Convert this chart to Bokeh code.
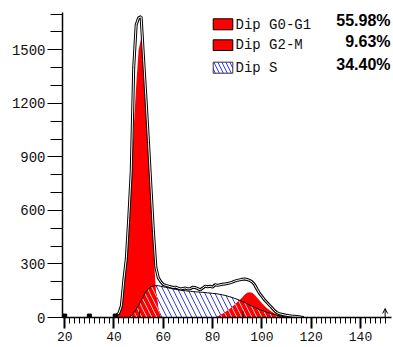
import numpy as np
from bokeh.plotting import figure
from bokeh.models import Range1d, FixedTicker, Label, Arrow, OpenHead
from bokeh.embed import file_html
from bokeh.resources import INLINE

# ---------------- data ----------------
channel = list(range(40, 118))

data_counts = [5, 12, 25, 65, 210, 330, 560, 820, 1400, 1640,
               1680, 1685, 1450, 1220, 980, 730, 480, 280, 222, 200,
               185, 180, 176, 172, 168, 170, 165, 160, 163, 165,
               160, 162, 170, 168, 162, 155, 165, 176, 172, 175,
               170, 184, 180, 183, 186, 188, 190, 194, 198, 204,
               208, 211, 214, 216, 213, 208, 200, 185, 160, 136,
               118, 100, 85, 70, 56, 40, 28, 22, 18, 15,
               12, 10, 8, 7, 6, 4, 2, 0]

g0g1 = [0, 12, 35, 110, 205, 320, 560, 760, 1060, 1300,
        1500, 1565, 1370, 1120, 880, 620, 384, 150, 50, 0,
        0, 0, 0, 0, 0, 0, 0, 0, 0, 0,
        0, 0, 0, 0, 0, 0, 0, 0, 0, 0,
        0, 0, 0, 0, 0, 0, 0, 0, 0, 0,
        0, 0, 0, 0, 0, 0, 0, 0, 0, 0,
        0, 0, 0, 0, 0, 0, 0, 0, 0, 0,
        0, 0, 0, 0, 0, 0, 0, 0]

g2m = [0, 0, 0, 0, 0, 0, 0, 0, 0, 0,
       0, 0, 0, 0, 0, 0, 0, 0, 0, 0,
       0, 0, 0, 0, 0, 0, 0, 0, 0, 0,
       0, 0, 0, 0, 0, 0, 0, 0, 0, 0,
       0, 0, 5, 12, 20, 28, 38, 48, 60, 72,
       85, 98, 112, 127, 138, 142, 139, 128, 112, 96,
       80, 66, 53, 42, 32, 24, 17, 14, 10, 6,
       2, 0, 0, 0, 0, 0, 0, 0]

s_phase = [0, 0, 0, 0, 0, 0, 0, 10, 25, 45,
           70, 95, 120, 145, 162, 172, 177, 179, 178, 175,
           172, 169, 166, 163, 160, 157, 155, 153, 151, 150,
           148, 147, 145, 144, 143, 142, 141, 140, 138, 137,
           135, 134, 132, 130, 127, 124, 120, 116, 112, 107,
           102, 96, 90, 84, 77, 70, 63, 57, 51, 45,
           40, 35, 30, 25, 21, 17, 13, 10, 7, 4,
           2, 0, 0, 0, 0, 0, 0, 0]

debris_x = [20, 30, 40.5]
debris_y = [8, 8, 8]
marker_x = [50.4, 92.3]
marker_h = [35, 35]

x_labeled = [20, 40, 60, 80, 100, 120, 140]
x_fine = list(range(20, 152, 2))
y_labeled = [0, 300, 600, 900, 1200, 1500]
y_fine = list(range(0, 1800, 100))

legend_names = ["Dip G0-G1", "Dip G2-M", "Dip S"]
legend_pcts = ["55.98%", "9.63%", "34.40%"]

# ---------------- layout ----------------
X0, X1 = 19.11, 152.58
Y0, Y1 = 0, 1709
FW, FH = 329, 305
L, T = 62, 12  # page px of frame left/top


def dx(px):
    return X0 + (px - L) * (X1 - X0) / FW


def dy(py):
    return Y1 - (py - T) * (Y1 - Y0) / FH


p = figure(width=393, height=347, frame_width=FW, frame_height=FH,
           x_range=Range1d(X0, X1), y_range=Range1d(Y0, Y1),
           output_backend="svg", toolbar_location=None,
           min_border_left=62, min_border_top=12, min_border_right=2,
           min_border_bottom=30)
p.outline_line_color = None
p.grid.visible = False
p.background_fill_color = "white"
p.border_fill_color = "white"

# axes: the fine comb is drawn as "major" ticks (only some labelled),
# the long labelled ticks as "minor" ticks
xa = p.xaxis[0]
xa.ticker = FixedTicker(ticks=x_fine, minor_ticks=x_labeled)
xa.major_label_overrides = {t: (str(t) if t in x_labeled else "")
                            for t in x_fine}
xa.major_tick_out = 6
xa.major_tick_in = 0
xa.major_tick_line_width = 1
xa.minor_tick_out = 11
xa.minor_tick_in = 0
xa.minor_tick_line_color = "black"
xa.minor_tick_line_width = 2
xa.axis_line_width = 1.5
xa.major_label_standoff = 3
xa.major_label_text_font = "Liberation Mono"
xa.major_label_text_font_size = "13px"
xa.major_label_text_color = "#111111"

ya = p.yaxis[0]
ya.ticker = FixedTicker(ticks=y_fine, minor_ticks=y_labeled)
ya.major_label_overrides = {t: (str(t) if t in y_labeled else "")
                            for t in y_fine}
ya.major_tick_out = 12
ya.major_tick_in = 0
ya.minor_tick_out = 15
ya.minor_tick_in = 0
ya.minor_tick_line_color = "black"
ya.axis_line_width = 1.5
ya.major_label_standoff = 2
ya.major_label_text_font = "Liberation Mono"
ya.major_label_text_font_size = "14px"
ya.major_label_text_color = "#111111"

s_arr = np.array(s_phase, dtype=float)
g1_arr = np.array(g0g1, dtype=float)
g2_arr = np.array(g2m, dtype=float)
overlap = np.minimum(s_arr, g1_arr) + np.minimum(s_arr, g2_arr)

# S phase: blue hatch on white
p.varea(x=channel, y1=0, y2=s_phase, fill_color="white", fill_alpha=0,
        hatch_pattern="\\", hatch_color="#2a3cff", hatch_scale=10,
        hatch_weight=1)
# G0-G1 and G2-M: solid red
p.varea(x=channel, y1=0, y2=g0g1, fill_color="#ff0000")
p.varea(x=channel, y1=0, y2=g2m, fill_color="#ff0000")
# overlap of S with G peaks: red with light hatch
p.varea(x=channel, y1=0, y2=overlap, fill_color="#ff0000",
        hatch_pattern="\\", hatch_color="#ffc0c0", hatch_scale=10,
        hatch_weight=1)
# S line
p.line(channel, s_phase, line_color="black", line_width=1)

# measured histogram: dark outline with light core
p.line(channel, data_counts, line_color="black", line_width=3)
p.line(channel, data_counts, line_color="white", line_width=1)

p.scatter(debris_x, debris_y, marker="square", size=4, color="black")
p.segment(x0=marker_x, y0=[0, 0], x1=marker_x, y1=marker_h,
          line_color="black", line_width=1)

p.add_layout(Arrow(end=OpenHead(size=5, line_width=1), x_start=150,
                   x_end=150, y_start=-54, y_end=50, line_width=1,
                   line_color="black"))

# legend
box_tops = [18.3, 39.3, 61.7]
box_bots = [29.3, 50.0, 72.7]
for i in range(3):
    if i < 2:
        p.quad(left=dx(212.7), right=dx(232.3), top=dy(box_tops[i]),
               bottom=dy(box_bots[i]), fill_color="#ff0000",
               line_color="black", line_width=1)
    else:
        p.quad(left=dx(212.7), right=dx(232.3), top=dy(box_tops[i]),
               bottom=dy(box_bots[i]), fill_color="white",
               hatch_pattern="\\", hatch_color="#2a3cff", hatch_scale=8,
               hatch_weight=1, line_color="#333333", line_width=1)

name_y = [24.0, 44.7, 67.2]
pct_y = [20.0, 41.0, 64.0]
for i in range(3):
    p.add_layout(Label(x=dx(235), y=dy(name_y[i]), text=legend_names[i],
                       text_font="Liberation Mono", text_font_size="14px",
                       text_baseline="middle", text_align="left",
                       text_color="#111111"))
    p.add_layout(Label(x=dx(390), y=dy(pct_y[i]), text=legend_pcts[i],
                       text_font="Liberation Sans", text_font_size="16px",
                       text_font_style="bold", text_baseline="middle",
                       text_align="right", text_color="black"))

open("out.html", "w").write(file_html(p, INLINE))
